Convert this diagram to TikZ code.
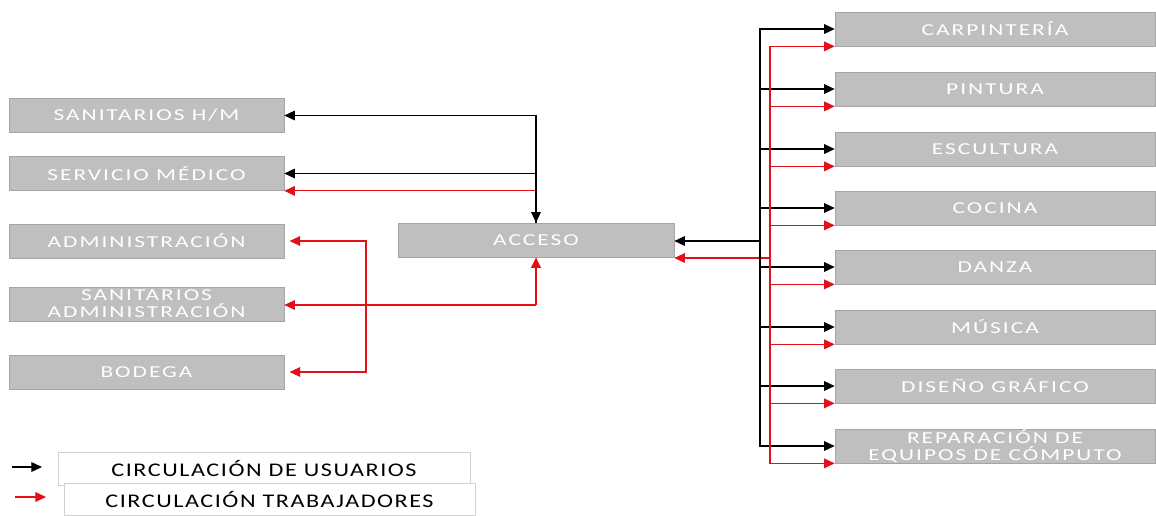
\documentclass[tikz,border=0pt]{standalone}
\usepackage{fontspec}
\setmainfont{Carlito}
\newfontfamily\boxfont[FakeStretch=1.4,LetterSpace=12]{Carlito}
\newfontfamily\legfont[FakeStretch=1.25,LetterSpace=8]{Carlito}
\usetikzlibrary{arrows.meta}
\definecolor{boxgray}{HTML}{BFBFBF}
\definecolor{boxline}{HTML}{A5A5A5}
\definecolor{trabred}{HTML}{E3101A}
\begin{document}
\begin{tikzpicture}[x=0.02cm,y=-0.02cm,
  area/.style={draw=boxline,fill=boxgray,minimum height=0.68cm,inner sep=0pt,text=white,align=center,font=\boxfont\fontsize{9.5}{9.8}\selectfont},
  leftarea/.style={area,minimum width=5.5cm},
  rightarea/.style={area,minimum width=6.4cm},
  usr/.style={-{Triangle[length=6pt,width=5.5pt]},line width=0.6pt,black},
  trab/.style={-{Triangle[length=6pt,width=5.5pt]},line width=0.6pt,trabred},
  legbox/.style={draw=black!18,fill=white,inner sep=0pt,font=\legfont\fontsize{11}{11}\selectfont}]
\useasboundingbox (0,0) rectangle (1156,515);
% left areas
\node[leftarea] (sanhm) at (146.5,115.5) {SANITARIOS H/M};
\node[leftarea] (servmed) at (146.5,173.5) {SERVICIO MÉDICO};
\node[leftarea] (admin) at (146.5,241) {ADMINISTRACIÓN};
\node[leftarea] (sanadm) at (146.5,304) {SANITARIOS\\ADMINISTRACIÓN};
\node[leftarea] (bodega) at (146.5,372) {BODEGA};
% access
\node[area,minimum width=5.52cm] (acceso) at (536,240) {ACCESO};
% workshops
\node[rightarea] (carp) at (995,29) {CARPINTERÍA};
\node[rightarea] (pint) at (995,89) {PINTURA};
\node[rightarea] (escul) at (995,149) {ESCULTURA};
\node[rightarea] (cocina) at (995,208) {COCINA};
\node[rightarea] (danza) at (995,267) {DANZA};
\node[rightarea] (musica) at (995,327) {MÚSICA};
\node[rightarea] (diseno) at (995,386) {DISEÑO GRÁFICO};
\node[rightarea] (repar) at (995,446) {REPARACIÓN DE\\EQUIPOS DE CÓMPUTO};

% right side
\coordinate (bk) at (760,241);
\coordinate (rd) at (770,258);
\draw[usr] (bk) -- (bk -| acceso.east);
\draw[trab] (rd) -- (rd -| acceso.east);
\draw[usr] (bk) |- (carp.west);
\draw[usr] (bk) |- (pint.west);
\draw[usr] (bk) |- (escul.west);
\draw[usr] (bk) |- (cocina.west);
\draw[usr] (bk) |- (danza.west);
\draw[usr] (bk) |- (musica.west);
\draw[usr] (bk) |- (diseno.west);
\draw[usr] (bk) |- (repar.west);
\draw[trab] (rd) |- (carp.south west);
\draw[trab] (rd) |- (pint.south west);
\draw[trab] (rd) |- (escul.south west);
\draw[trab] (rd) |- (cocina.south west);
\draw[trab] (rd) |- (danza.south west);
\draw[trab] (rd) |- (musica.south west);
\draw[trab] (rd) |- (diseno.south west);
\draw[trab] (rd) |- (repar.south west);

% left side
\draw[trab] (acceso.north) |- (servmed.south east);
\draw[usr] (acceso.north) |- (sanhm.east);
\draw[usr] (acceso.north) |- (servmed.east);
\draw[usr] (acceso.north |- sanhm.east) -- (acceso.north);
\coordinate (ra) at (536,305);
\draw[trab,line width=1pt] (ra) -- (acceso.south);
\draw[trab] (ra) -- (ra -| sanadm.east);
\coordinate (rv) at (366,305);
\draw[trab] (rv) |- ([xshift=3pt]admin.east);
\draw[trab] (rv) |- ([xshift=3pt]bodega.east);

% legend
\node[legbox,minimum width=8.24cm,minimum height=0.66cm] (legusr) at (264,468.5) {CIRCULACIÓN DE USUARIOS};
\node[legbox,minimum width=8.22cm,minimum height=0.64cm] (legtrab) at (269.5,499) {CIRCULACIÓN TRABAJADORES};
\coordinate (ua) at (12,467);
\coordinate (ub) at (42,467);
\draw[usr] (ua) -- (ub);
\coordinate (ta) at (15,497);
\coordinate (tb) at (46,497);
\draw[trab] (ta) -- (tb);
\end{tikzpicture}
\end{document}
